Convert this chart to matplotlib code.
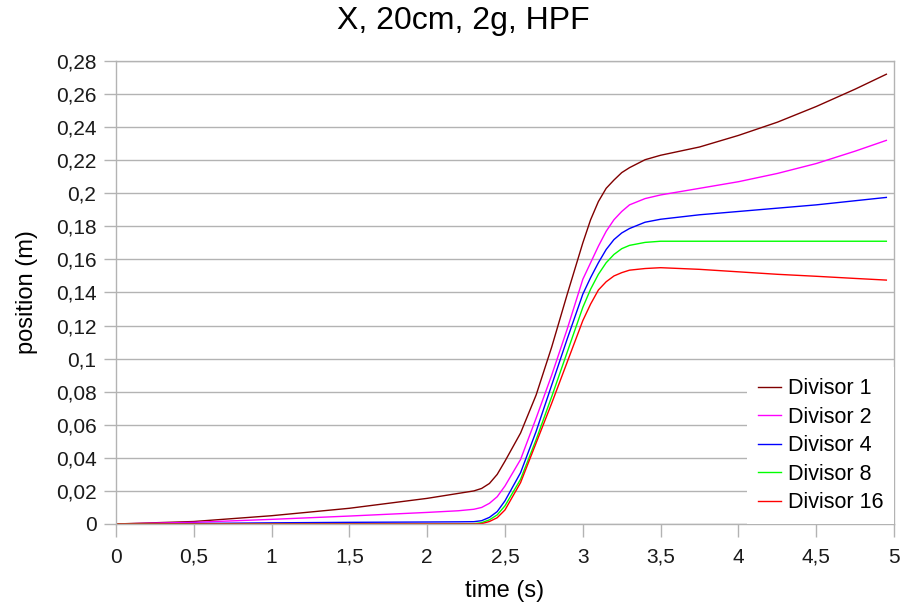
import matplotlib
matplotlib.use("Agg")
import matplotlib.pyplot as plt
from matplotlib.ticker import FuncFormatter, MultipleLocator

t = [0, 0.5, 1, 1.5, 2, 2.2, 2.3, 2.35, 2.4, 2.45, 2.5, 2.6, 2.7, 2.8, 2.9,
     3.0, 3.05, 3.1, 3.15, 3.2, 3.25, 3.3, 3.4, 3.5, 3.75, 4, 4.25, 4.5,
     4.75, 4.95]

div1 = [0, 0.0015, 0.005, 0.0095, 0.0155, 0.0185, 0.020, 0.0215, 0.0245, 0.030,
        0.038, 0.055, 0.078, 0.107, 0.139, 0.170, 0.184, 0.195, 0.203, 0.208,
        0.2125, 0.2155, 0.2203, 0.223, 0.228, 0.235, 0.243, 0.2525, 0.263, 0.272]
div2 = [0, 0.001, 0.0028, 0.0048, 0.007, 0.008, 0.0089, 0.010, 0.0125, 0.0165,
        0.023, 0.039, 0.064, 0.090, 0.118, 0.148, 0.158, 0.168, 0.177, 0.184,
        0.189, 0.193, 0.1968, 0.199, 0.203, 0.207, 0.212, 0.218, 0.2255, 0.232]
div4 = [0, 0.0003, 0.0007, 0.001, 0.0012, 0.0013, 0.0014, 0.002, 0.004, 0.0075,
        0.014, 0.031, 0.056, 0.084, 0.112, 0.139, 0.149, 0.158, 0.166, 0.172,
        0.176, 0.1787, 0.1825, 0.1843, 0.187, 0.189, 0.191, 0.193, 0.1955, 0.1975]
div8 = [0, 0, 0, 0, 0, 0.0001, 0.0002, 0.0008, 0.0025, 0.0055,
        0.011, 0.027, 0.051, 0.077, 0.104, 0.131, 0.142, 0.151, 0.158, 0.163,
        0.1665, 0.1685, 0.1703, 0.171, 0.171, 0.171, 0.171, 0.171, 0.171, 0.171]
div16 = [0, 0, 0, 0, 0, 0, 0, 0.0002, 0.0015, 0.0038,
         0.0085, 0.025, 0.049, 0.073, 0.098, 0.123, 0.133, 0.1415, 0.1465, 0.150,
         0.152, 0.1535, 0.1545, 0.155, 0.154, 0.1525, 0.151, 0.1498, 0.1485, 0.1475]

series = [("Divisor 1", div1, "#800000"),
          ("Divisor 2", div2, "#ff00ff"),
          ("Divisor 4", div4, "#0000ff"),
          ("Divisor 8", div8, "#00ff00"),
          ("Divisor 16", div16, "#ff0000")]

plt.rcParams['font.family'] = ['Liberation Sans', 'DejaVu Sans']

fig = plt.figure(figsize=(9.05, 6.1), dpi=100)
ax = fig.add_axes([0.128, 0.141, 0.86, 0.759])

for name, y, c in series:
    ax.plot(t, y, color=c, lw=1.0, label=name)

ax.set_xlim(0, 5)
ax.set_ylim(0, 0.28)
ax.xaxis.set_major_locator(MultipleLocator(0.5))
ax.yaxis.set_major_locator(MultipleLocator(0.02))

def fmt(v, pos):
    s = f"{v:.2f}".rstrip("0").rstrip(".")
    if s == "-0":
        s = "0"
    return s.replace(".", ",")

ax.xaxis.set_major_formatter(FuncFormatter(fmt))
ax.yaxis.set_major_formatter(FuncFormatter(fmt))

grey = "#b3b3b3"
ax.yaxis.grid(True, color=grey, lw=1)
ax.set_axisbelow(True)
for s in ax.spines.values():
    s.set_color(grey)
    s.set_linewidth(1)
ax.tick_params(axis='both', colors=grey, length=9, width=1, labelsize=15,
               labelcolor="#1a1a1a", direction='out')
ax.tick_params(axis='x', pad=8)
ax.tick_params(axis='y', pad=5)

ax.set_xlabel("time (s)", fontsize=17, labelpad=10)
ax.set_ylabel("position (m)", fontsize=17, labelpad=13)
fig.suptitle("X, 20cm, 2g, HPF", fontsize=23, x=0.512, y=0.99)

leg = ax.legend(loc='lower right', bbox_to_anchor=(1, 0), fontsize=15.5,
                frameon=True, fancybox=False, borderaxespad=0,
                handlelength=1.1, handletextpad=0.3, labelspacing=0.35,
                borderpad=0.5)
leg.get_frame().set_facecolor("white")
leg.get_frame().set_edgecolor("none")
leg.get_frame().set_alpha(1)

fig.savefig("out.png", dpi=100)
